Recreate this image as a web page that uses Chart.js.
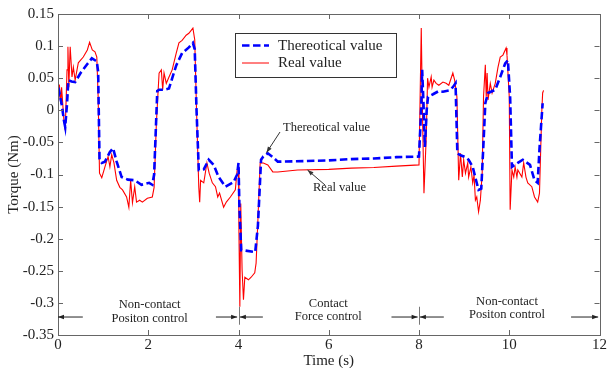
<!DOCTYPE html>
<html>
<head>
<meta charset="utf-8">
<script src="https://cdn.jsdelivr.net/npm/chart.js@4/dist/chart.umd.min.js"></script>
<style>
html,body{margin:0;padding:0;background:#fff;}
#wrap{width:608px;height:368px;}
</style>
</head>
<body>
<div id="wrap"><canvas id="c" width="608" height="368"></canvas></div>
<script>
const xTicks = [0, 2, 4, 6, 8, 10, 12];
const yTicks = [0.15, 0.1, 0.05, 0, -0.05, -0.1, -0.15, -0.2, -0.25, -0.3, -0.35];

const thTime = [0.00,0.03,0.08,0.13,0.16,0.20,0.23,0.30,0.38,0.50,0.65,0.75,0.82,0.86,0.89,0.92,0.97,1.04,1.15,1.22,1.30,1.41,1.55,1.70,1.85,2.02,2.09,2.13,2.20,2.24,2.35,2.46,2.62,2.75,2.90,2.99,3.03,3.07,3.12,3.23,3.34,3.45,3.56,3.71,3.89,3.97,4.00,4.02,4.06,4.11,4.37,4.43,4.50,4.55,4.65,4.76,4.87,5.5,6.0,6.5,7.0,7.5,8.00,8.05,8.07,8.10,8.13,8.17,8.20,8.31,8.44,8.53,8.66,8.75,8.81,8.85,8.92,9.03,9.10,9.19,9.25,9.32,9.38,9.43,9.47,9.53,9.69,9.80,9.91,9.97,10.02,10.06,10.19,10.30,10.46,10.56,10.63,10.67,10.74];
const thTorque = [0.020,0.028,0.010,-0.015,-0.026,0.010,0.047,0.045,0.044,0.058,0.072,0.081,0.078,0.076,0.060,-0.077,-0.082,-0.080,-0.065,-0.059,-0.080,-0.104,-0.108,-0.109,-0.116,-0.113,-0.116,-0.100,0.030,0.032,0.032,0.034,0.070,0.089,0.098,0.105,0.095,0.000,-0.093,-0.092,-0.077,-0.085,-0.104,-0.119,-0.112,-0.100,-0.082,-0.150,-0.218,-0.218,-0.221,-0.180,-0.077,-0.072,-0.067,-0.073,-0.080,-0.079,-0.078,-0.076,-0.075,-0.073,-0.072,0.005,0.063,0.010,-0.057,0.000,0.021,0.025,0.030,0.029,0.031,0.036,0.042,-0.067,-0.070,-0.073,-0.077,-0.088,-0.105,-0.124,-0.122,-0.050,0.011,0.027,0.032,0.052,0.073,0.078,0.020,-0.088,-0.082,-0.077,-0.085,-0.109,-0.113,-0.060,0.011];

const realTime = [0.00,0.03,0.06,0.08,0.13,0.16,0.20,0.22,0.24,0.27,0.31,0.34,0.38,0.45,0.56,0.65,0.70,0.76,0.82,0.86,0.89,0.92,0.97,1.04,1.11,1.15,1.19,1.24,1.30,1.37,1.43,1.52,1.57,1.61,1.65,1.70,1.74,1.81,1.87,1.98,2.09,2.13,2.18,2.24,2.29,2.32,2.35,2.40,2.46,2.53,2.62,2.68,2.75,2.84,2.90,2.99,3.03,3.07,3.12,3.14,3.16,3.23,3.30,3.35,3.42,3.49,3.54,3.58,3.67,3.73,3.82,3.93,3.97,4.00,4.01,4.03,4.05,4.08,4.11,4.14,4.22,4.28,4.36,4.39,4.43,4.48,4.55,4.65,4.76,4.87,5.31,6.0,6.5,7.0,7.5,8.00,8.05,8.08,8.11,8.16,8.19,8.22,8.27,8.29,8.33,8.38,8.44,8.53,8.60,8.66,8.75,8.79,8.84,8.88,8.92,8.96,8.99,9.03,9.08,9.10,9.15,9.19,9.22,9.25,9.28,9.32,9.36,9.40,9.43,9.47,9.49,9.51,9.53,9.58,9.62,9.69,9.75,9.80,9.86,9.93,9.95,10.00,10.02,10.06,10.10,10.13,10.17,10.19,10.28,10.32,10.37,10.41,10.50,10.56,10.63,10.67,10.72,10.74,10.76];
const realTorque = [0.000,0.040,0.010,0.036,-0.015,-0.031,0.063,0.099,0.036,0.099,0.052,0.067,0.047,0.074,0.083,0.094,0.106,0.094,0.091,0.083,0.020,-0.098,-0.105,-0.088,-0.072,-0.088,-0.069,-0.082,-0.109,-0.120,-0.124,-0.135,-0.151,-0.109,-0.144,-0.119,-0.143,-0.140,-0.143,-0.137,-0.135,-0.120,-0.020,0.058,0.063,0.032,0.058,0.042,0.052,0.063,0.089,0.105,0.109,0.117,0.120,0.128,0.110,0.000,-0.120,-0.143,-0.109,-0.113,-0.082,-0.098,-0.113,-0.119,-0.135,-0.129,-0.151,-0.143,-0.135,-0.124,-0.093,-0.090,-0.191,-0.306,-0.145,-0.249,-0.295,-0.260,-0.264,-0.260,-0.253,-0.238,-0.171,-0.082,-0.082,-0.085,-0.096,-0.096,-0.093,-0.092,-0.090,-0.089,-0.087,-0.085,0.128,-0.015,-0.129,-0.042,0.050,0.036,0.052,0.036,0.047,0.042,0.039,0.044,0.042,0.039,0.058,0.047,0.021,-0.109,-0.067,-0.104,-0.077,-0.098,-0.082,-0.104,-0.088,-0.113,-0.101,-0.140,-0.135,-0.158,-0.140,-0.098,0.021,0.071,0.021,0.058,0.016,0.042,0.027,0.042,0.067,0.083,0.086,0.097,0.086,0.021,-0.155,-0.093,-0.104,-0.088,-0.104,-0.093,-0.104,-0.082,-0.104,-0.113,-0.119,-0.135,-0.143,-0.129,-0.004,0.027,0.031];

const seriesNames = ['Thereotical value', 'Real value'];
const FONT = "'Liberation Serif','Times New Roman',serif";
const TXT = '#222';

const thData = thTime.map((t, i) => ({x: t, y: thTorque[i]}));
const realData = realTime.map((t, i) => ({x: t, y: realTorque[i]}));

function arrowHead(ctx, x, y, dir) {
  ctx.beginPath();
  ctx.moveTo(x, y);
  ctx.lineTo(x - dir * 6, y - 2.2);
  ctx.lineTo(x - dir * 6, y + 2.2);
  ctx.closePath();
  ctx.fill();
}

const decor = {
  id: 'decor',
  afterDraw(chart) {
    const ctx = chart.ctx;
    const a = chart.chartArea;
    const xs = chart.scales.x, ys = chart.scales.y;
    ctx.save();
    // frame
    ctx.strokeStyle = '#666';
    ctx.lineWidth = 1;
    ctx.strokeRect(Math.round(a.left) + 0.5, Math.round(a.top) + 0.5, Math.round(a.right - a.left), Math.round(a.bottom - a.top));
    ctx.beginPath();
    xTicks.forEach(v => {
      const px = Math.round(xs.getPixelForValue(v)) + 0.5;
      ctx.moveTo(px, a.bottom); ctx.lineTo(px, a.bottom - 5);
      ctx.moveTo(px, a.top); ctx.lineTo(px, a.top + 5);
    });
    yTicks.forEach(v => {
      const py = Math.round(ys.getPixelForValue(v)) + 0.5;
      ctx.moveTo(a.left, py); ctx.lineTo(a.left + 5, py);
      ctx.moveTo(a.right, py); ctx.lineTo(a.right - 5, py);
    });
    ctx.stroke();

    // region arrows
    const ay = ys.getPixelForValue(-0.322);
    ctx.strokeStyle = '#222';
    ctx.fillStyle = '#222';
    const seg = (t1, t2) => {
      const p1 = xs.getPixelForValue(t1), p2 = xs.getPixelForValue(t2);
      ctx.beginPath(); ctx.moveTo(p1, ay); ctx.lineTo(p2, ay); ctx.stroke();
      arrowHead(ctx, p2, ay, p2 > p1 ? 1 : -1);
    };
    seg(0.55, 0.0);
    seg(3.5, 3.97);
    seg(4.54, 4.03);
    seg(7.39, 7.97);
    seg(8.55, 8.02);
    seg(11.37, 11.97);
    ctx.strokeStyle = '#777';
    [4, 8].forEach(t => {
      const px = Math.round(xs.getPixelForValue(t)) + 0.5;
      ctx.beginPath();
      ctx.moveTo(px, ys.getPixelForValue(-0.306));
      ctx.lineTo(px, ys.getPixelForValue(-0.334));
      ctx.stroke();
    });

    // region labels
    ctx.fillStyle = TXT;
    ctx.font = '12.5px ' + FONT;
    ctx.textAlign = 'center';
    ctx.textBaseline = 'middle';
    const lab = (t, l1, l2, dy) => {
      const px = xs.getPixelForValue(t);
      ctx.fillText(l1, px, ys.getPixelForValue(-0.301) + dy);
      ctx.fillText(l2, px, ys.getPixelForValue(-0.322) + dy);
    };
    lab(2.03, 'Non-contact', 'Positon control', 1.5);
    lab(5.99, 'Contact', 'Force control', 0);
    lab(9.95, 'Non-contact', 'Positon control', -2);

    // callouts
    ctx.textAlign = 'left';
    ctx.fillText('Thereotical value', 283, 128);
    ctx.fillText('Real value', 313, 188);
    ctx.strokeStyle = '#333';
    ctx.fillStyle = '#333';
    const callout = (x1, y1, x2, y2) => {
      ctx.beginPath(); ctx.moveTo(x1, y1); ctx.lineTo(x2, y2); ctx.stroke();
      const ang = Math.atan2(y2 - y1, x2 - x1);
      ctx.beginPath();
      ctx.moveTo(x2, y2);
      ctx.lineTo(x2 - 6 * Math.cos(ang) + 2.2 * Math.sin(ang), y2 - 6 * Math.sin(ang) - 2.2 * Math.cos(ang));
      ctx.lineTo(x2 - 6 * Math.cos(ang) - 2.2 * Math.sin(ang), y2 - 6 * Math.sin(ang) + 2.2 * Math.cos(ang));
      ctx.closePath(); ctx.fill();
    };
    callout(280, 132, xs.getPixelForValue(4.62), ys.getPixelForValue(-0.066));
    callout(325, 185, xs.getPixelForValue(5.53), ys.getPixelForValue(-0.093));

    // legend
    ctx.fillStyle = '#fff';
    ctx.fillRect(235.5, 33.5, 161, 44);
    ctx.strokeStyle = '#333';
    ctx.strokeRect(235.5, 33.5, 161, 44);
    ctx.lineWidth = 2.6;
    ctx.strokeStyle = '#0000ff';
    ctx.setLineDash([7.5, 3.5]);
    ctx.beginPath(); ctx.moveTo(242, 45.5); ctx.lineTo(269, 45.5); ctx.stroke();
    ctx.setLineDash([]);
    ctx.lineWidth = 1;
    ctx.strokeStyle = '#ff0000';
    ctx.beginPath(); ctx.moveTo(242, 63); ctx.lineTo(269, 63); ctx.stroke();
    ctx.fillStyle = TXT;
    ctx.font = '15px ' + FONT;
    ctx.fillText(seriesNames[0], 278, 46);
    ctx.fillText(seriesNames[1], 278, 63.5);
    ctx.restore();
  }
};

new Chart(document.getElementById('c'), {
  type: 'line',
  data: {
    datasets: [
      {label: seriesNames[0], data: thData, borderColor: '#0000ff', borderWidth: 2.6, borderDash: [7.5, 3.5], pointRadius: 0, tension: 0, fill: false},
      {label: seriesNames[1], data: realData, borderColor: '#ff0000', borderWidth: 1.1, pointRadius: 0, tension: 0, fill: false}
    ]
  },
  options: {
    responsive: false,
    animation: false,
    events: [],
    layout: {padding: {top: 14, right: 3, left: 0, bottom: 0}},
    plugins: {legend: {display: false}, tooltip: {enabled: false}},
    scales: {
      x: {
        type: 'linear', min: 0, max: 12,
        afterBuildTicks: s => { s.ticks = xTicks.map(v => ({value: v})); },
        afterFit: s => { s.height = 33; },
        grid: {display: false, drawTicks: false},
        border: {display: false},
        ticks: {padding: 1, color: TXT, font: {family: FONT, size: 15}, maxRotation: 0},
        title: {display: true, text: 'Time (s)', color: TXT, font: {family: FONT, size: 15, lineHeight: 0.9}, padding: {top: 4, bottom: 0}}
      },
      y: {
        type: 'linear', min: -0.35, max: 0.15,
        afterBuildTicks: s => { s.ticks = yTicks.map(v => ({value: v})); },
        afterFit: s => { s.width = 58; },
        grid: {display: false, drawTicks: false},
        border: {display: false},
        ticks: {padding: 4, color: TXT, font: {family: FONT, size: 15}, callback: v => String(Math.round(v * 100) / 100)},
        title: {display: true, text: 'Torque (Nm)', color: TXT, font: {family: FONT, size: 15}, padding: {top: 5, bottom: 0}}
      }
    }
  },
  plugins: [decor]
});
</script>
</body>
</html>
